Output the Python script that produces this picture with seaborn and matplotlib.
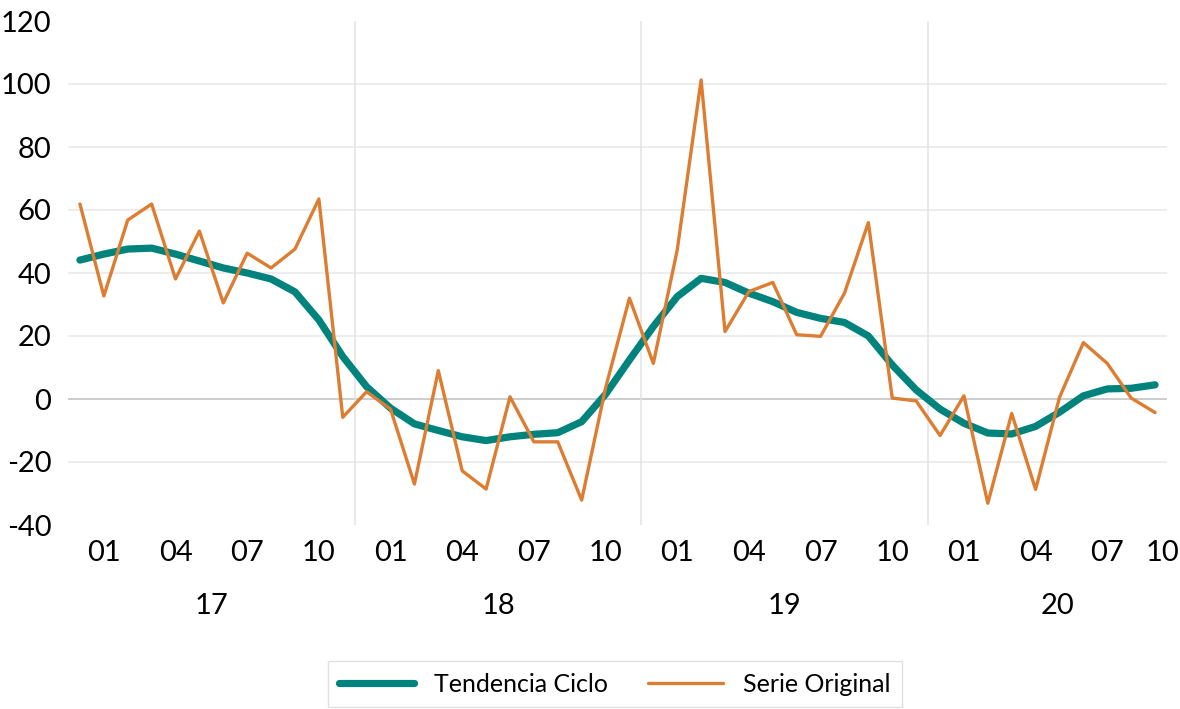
import pandas as pd
import numpy as np
import matplotlib.pyplot as plt
import seaborn as sns

# monthly values, Jan 2017 - Oct 2020
years = ["17"] * 12 + ["18"] * 12 + ["19"] * 12 + ["20"] * 10
tendencia = [44.1, 46.0, 47.6, 47.9, 46.0, 43.8, 41.6, 40.0, 38.1, 34.0, 25.1, 13.5,
             3.9, -2.9, -7.9, -10.0, -12.0, -13.2, -12.0, -11.2, -10.7, -7.2, 1.5, 12.4,
             23.0, 32.5, 38.3, 37.0, 33.6, 30.9, 27.5, 25.6, 24.3, 20.0, 10.8, 2.9,
             -3.2, -7.7, -10.8, -11.1, -8.7, -4.2, 1.0, 3.2, 3.4, 4.5]
original = [61.9, 32.7, 56.8, 61.9, 38.1, 53.3, 30.5, 46.3, 41.6, 47.6, 63.5, -5.8,
            2.3, -3.2, -27.0, 9.0, -22.8, -28.6, 0.7, -13.6, -13.6, -32.1, 3.5, 32.0,
            11.3, 47.3, 101.3, 21.4, 34.1, 37.0, 20.4, 19.9, 33.6, 56.0, 0.3, -0.6,
            -11.6, 1.0, -33.1, -4.6, -28.7, 0.5, 17.9, 11.3, 0.3, -4.3]
month_labels = ["01", "04", "07", "10"]
y_ticks = [-40, -20, 0, 20, 40, 60, 80, 100, 120]

df = pd.DataFrame({"t": np.arange(len(tendencia)), "year": years,
                   "Tendencia Ciclo": tendencia, "Serie Original": original})

sns.set_style("white")
plt.rcParams['font.family'] = ['Lato', 'DejaVu Sans']
plt.rcParams['text.color'] = 'black'

fig = plt.figure(figsize=(11.8, 7.09), dpi=100)
ax = fig.add_axes([68 / 1180, 1 - 525 / 709, 1099 / 1180, 504 / 709])

# grid lines
for v in y_ticks[1:-1]:
    ax.axhline(v, color='#bfbfbf' if v == 0 else '#e8e8e8', lw=1.1, zorder=0)
n = len(df)
bounds = [i - 0.5 for i in range(1, n) if years[i] != years[i - 1]]
for b in bounds:
    ax.axvline(b, color='#e3e3e3', lw=1.1, zorder=0)

sns.lineplot(data=df, x="t", y="Tendencia Ciclo", color='#00837c', lw=5.2,
             ax=ax, label="Tendencia Ciclo")
sns.lineplot(data=df, x="t", y="Serie Original", color='#dc7d32', lw=2.4,
             ax=ax, label="Serie Original")

ax.set_xlim(-0.5, n - 0.5)
ax.set_ylim(-40, 120)
ax.set_yticks(y_ticks)
ax.set_yticklabels([str(v) for v in y_ticks], fontsize=21)
ax.tick_params(axis='y', length=0, pad=12, colors='black')

# month labels every third slot (last one squeezed in at the right edge)
pos = list(range(1, n, 3)) + [n - 0.7]
labs = [month_labels[k % 4] for k in range(len(pos))]
ax.set_xticks(pos)
ax.set_xticklabels(labs, fontsize=21)
ax.tick_params(axis='x', length=0, pad=11, colors='black')

# year labels
for yr in dict.fromkeys(years):
    idx = [i for i, y in enumerate(years) if y == yr]
    c = (idx[0] + idx[-1]) / 2
    if yr == years[-1]:
        c += 0.4
    ax.text(c, -0.16, yr, transform=ax.get_xaxis_transform(), ha='center',
            va='center', fontsize=21)

ax.set_xlabel("")
ax.set_ylabel("")
for s in ax.spines.values():
    s.set_visible(False)

ax.get_legend().remove()
h, l = ax.get_legend_handles_labels()
leg = fig.legend(h, l, loc='center', bbox_to_anchor=(615 / 1180, 1 - 684 / 709),
                 ncol=2, fontsize=18, frameon=True, fancybox=False,
                 edgecolor='#d9d9d9', handlelength=3.0, columnspacing=1.6,
                 borderpad=0.45)
leg.get_frame().set_linewidth(1.0)

plt.savefig("out.png", dpi=100)
plt.close()
